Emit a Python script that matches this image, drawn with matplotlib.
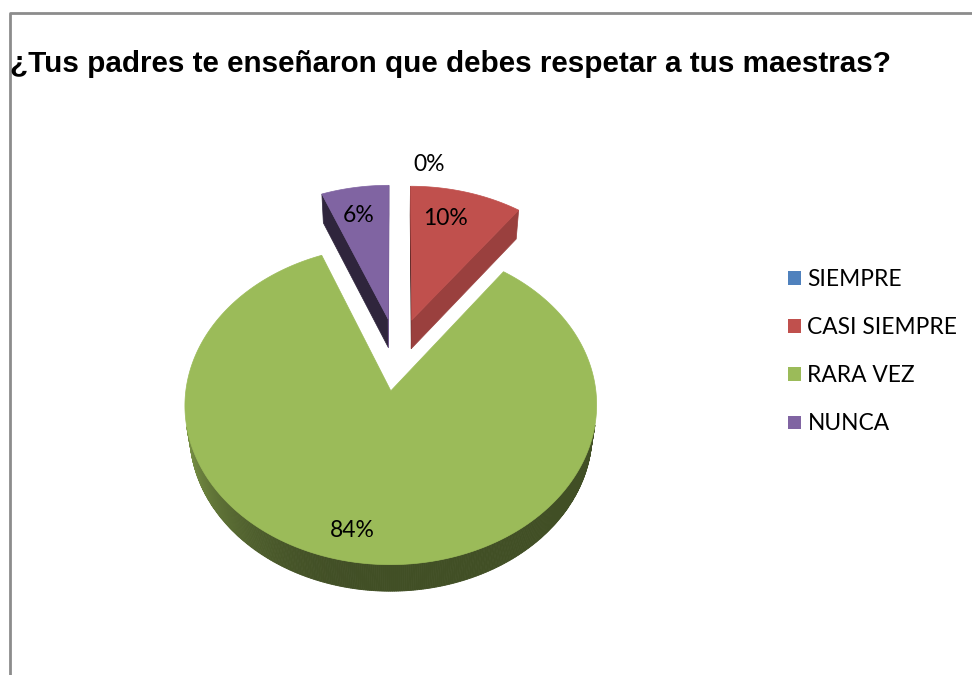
import numpy as np
import matplotlib.pyplot as plt
from matplotlib.patches import Polygon

categories = ['SIEMPRE', 'CASI SIEMPRE', 'RARA VEZ', 'NUNCA']
percent = [0, 10, 84, 6]
colors = ['#4F81BD', '#C0504D', '#9BBB59', '#8064A2']
title = '¿Tus padres te enseñaron que debes respetar a tus maestras?'

# 3d look of the pie (world units: radius = 1)
explode = 0.24
height = 0.22
phi = np.radians(49)
dist = 7.4
scale = 1485
x0, y0 = 397, 354
label_r = 0.8
label_shift = [(32, 45), (-11, -2), (-16, -4), (-3, -3)]  # pixels, manual nudges like excel

cam = np.array([0, -dist * np.cos(phi), dist * np.sin(phi)])


def project(X, Y, Z):
    X, Y, Z = np.asarray(X), np.asarray(Y), np.asarray(Z)
    yc = Y * np.sin(phi) + Z * np.cos(phi)
    zc = Y * np.cos(phi) - Z * np.sin(phi) + dist
    return x0 + scale * X / zc, y0 - scale * yc / zc


def shade(hexcol, f):
    rgb = np.array([int(hexcol[i:i + 2], 16) for i in (1, 3, 5)]) / 255
    return tuple(np.clip(rgb * f, 0, 1))


def facing(pt, normal):
    return np.dot(normal, cam - pt) > 0


fig = plt.figure(figsize=(9.72, 6.75), dpi=100)
ax = fig.add_axes([0, 0, 1, 1])
ax.set_xlim(0, 972)
ax.set_ylim(675, 0)
ax.axis('off')

# slice geometry
total = sum(percent)
starts = np.cumsum([0] + percent[:-1]) / total * 360
ends = np.cumsum(percent) / total * 360
slices = []
for i, p in enumerate(percent):
    a1, a2 = starts[i], ends[i]
    mid = np.radians((a1 + a2) / 2)
    cx, cy = explode * np.sin(mid), explode * np.cos(mid)
    slices.append((i, a1, a2, mid, cx, cy))

# back slices first
for i, a1, a2, mid, cx, cy in sorted(slices, key=lambda s: -s[5]):
    if percent[i] == 0:
        continue
    col = colors[i]
    th = np.radians(np.linspace(a1, a2, max(3, int((a2 - a1) * 2))))
    ox, oy = cx + np.sin(th), cy + np.cos(th)

    # radial walls
    for a, sgn in ((a1, -1), (a2, 1)):
        ar = np.radians(a)
        n = sgn * np.array([np.cos(ar), -np.sin(ar), 0])
        ex, ey = cx + np.sin(ar), cy + np.cos(ar)
        if not facing(np.array([(cx + ex) / 2, (cy + ey) / 2, -height / 2]), n):
            continue
        px, py = project([cx, ex, ex, cx], [cy, ey, ey, cy], [0, 0, -height, -height])
        f = 0.6 + 0.25 * n[0]
        ax.add_patch(Polygon(np.c_[px, py], closed=True, fc=shade(col, f),
                             ec=shade(col, f), lw=0.5))

    # outer wall, piece by piece
    for k in range(len(th) - 1):
        tm = (th[k] + th[k + 1]) / 2
        n = np.array([np.sin(tm), np.cos(tm), 0])
        if not facing(np.array([cx + n[0], cy + n[1], -height / 2]), n):
            continue
        xs = [ox[k], ox[k + 1], ox[k + 1], ox[k]]
        ys = [oy[k], oy[k + 1], oy[k + 1], oy[k]]
        px, py = project(xs, ys, [0, 0, -height, -height])
        f = 0.42 + 0.36 * max(0, -np.sin(tm)) ** 3
        ax.add_patch(Polygon(np.c_[px, py], closed=True, fc=shade(col, f),
                             ec=shade(col, f), lw=0.6))

    # top face
    px, py = project(np.r_[cx, ox], np.r_[cy, oy], np.zeros(len(ox) + 1))
    ax.add_patch(Polygon(np.c_[px, py], closed=True, fc=col, ec=col, lw=0.5))

# percentage labels
for i, a1, a2, mid, cx, cy in slices:
    lx, ly = project(cx + label_r * np.sin(mid), cy + label_r * np.cos(mid), 0)
    ax.annotate(f'{percent[i]}%', (lx, ly), xytext=label_shift[i], textcoords='offset pixels',
                ha='center', va='center', fontsize=16.5, family='Lato', color='black')

# legend
handles = [Polygon([[0, 0]], closed=True, fc=c, ec='none') for c in colors]
leg = ax.legend(handles, categories, loc='upper left', bbox_to_anchor=(779 / 972, 1 - 260 / 675),
                frameon=False, prop={'family': 'Lato', 'size': 16.4},
                handlelength=0.55, handleheight=0.55, handletextpad=0.3, labelspacing=1.19,
                borderaxespad=0)

fig.text(10 / 972, 1 - 72 / 675, title, fontsize=21.3, fontweight='bold',
         family='Liberation Sans', va='baseline', ha='left')

# chart frame (top and left edge visible)
ax.plot([10, 10, 972], [675, 13, 13], color='#8c8c8c', lw=2, solid_capstyle='butt')

fig.savefig('out.png', dpi=100)
